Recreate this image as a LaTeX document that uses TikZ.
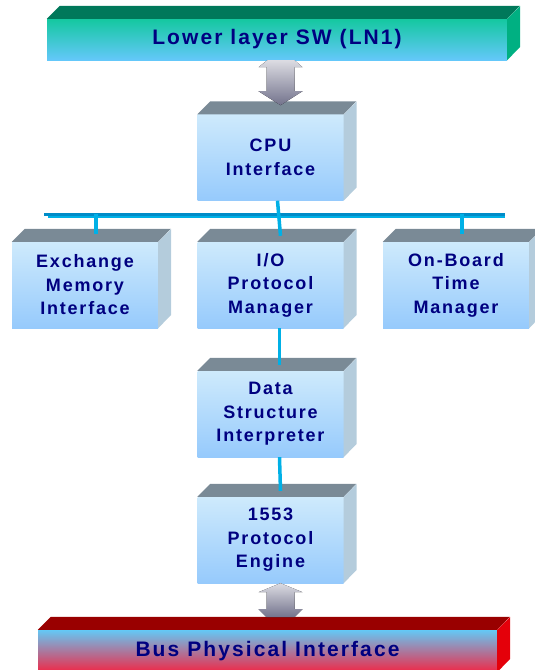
\documentclass[tikz,border=0pt]{standalone}
\usepackage{fontspec}
\setmainfont{Liberation Sans}
\newfontfamily\boxfont[LetterSpace=10]{Liberation Sans}
\usepackage{tikz}
\usetikzlibrary{calc}

\xdefinecolor{navytext}{RGB}{0, 0, 128}
\xdefinecolor{facetop}{RGB}{206, 234, 252}
\xdefinecolor{facebot}{RGB}{150, 202, 252}
\xdefinecolor{lidgray}{RGB}{122, 138, 150}
\xdefinecolor{sideblue}{RGB}{180, 204, 220}
\xdefinecolor{buscyan}{RGB}{0, 176, 230}
\xdefinecolor{busdark}{RGB}{0, 140, 200}
\xdefinecolor{swtop}{RGB}{20, 200, 160}
\xdefinecolor{swbot}{RGB}{100, 200, 250}
\xdefinecolor{swlid}{RGB}{0, 120, 90}
\xdefinecolor{swside}{RGB}{0, 176, 130}
\xdefinecolor{phytop}{RGB}{100, 200, 245}
\xdefinecolor{phybot}{RGB}{240, 40, 70}
\xdefinecolor{phylid}{RGB}{153, 0, 0}
\xdefinecolor{physide}{RGB}{228, 0, 10}

\tikzset{
    block/.style={rectangle, minimum width=146pt, minimum height=86pt, inner sep=0pt,
        top color=facetop, bottom color=facebot, text=navytext, align=center,
        font=\boxfont\bfseries\fontsize{18}{23.5}\selectfont},
    bar/.style={rectangle, minimum height=41pt, inner sep=0pt, text=navytext,
        font=\boxfont\bfseries\fontsize{21}{25}\selectfont},
    link/.style={buscyan, line width=3.5pt},
    updown/.style={top color=blue!10!gray!25, bottom color=gray!90!blue, draw=none}
}

\begin{document}
\begin{tikzpicture}[x=1pt, y=-1pt]
    \useasboundingbox (0,0) rectangle (535,670);

    % Top bar: lower layer software
    \node[bar, minimum width=460pt, top color=swtop, bottom color=swbot] (lowsw) at (277,39.5) {Lower layer SW (LN1)};
    \fill[swlid] (lowsw.north west) -- ++(13,-13) -- ++(460,0) -- (lowsw.north east) -- cycle;
    \fill[swside] (lowsw.north east) -- ++(13,-13) -- ++(0,41) -- (lowsw.south east) -- cycle;

    % Bottom bar: bus physical interface
    \node[bar, minimum width=459pt, minimum height=42pt, top color=phytop, bottom color=phybot] (phys) at (267.5,651) {Bus Physical Interface};
    \fill[phylid] (phys.north west) -- ++(13,-13) -- ++(459,0) -- (phys.north east) -- cycle;
    \fill[physide] (phys.north east) -- ++(13,-13) -- ++(0,42) -- (phys.south east) -- cycle;

    % The six blocks
    \node[block] (cpu) at (270.5,157.5) {CPU\\Interface};
    \node[block] (xmi) at (85,285) {Exchange\\Memory\\Interface};
    \node[block] (iop) at (270.5,285) {I/O\\Protocol\\Manager};
    \node[block] (obt) at (456,285) {On-Board\\Time\\Manager};
    \node[block] (dsi) at (270.5,414) {Data\\Structure\\Interpreter};
    \node[block] (pe) at (270.5,540) {1553\\Protocol\\Engine};

    % Lids and sides of the blocks
    \foreach \b in {cpu, xmi, iop, obt, dsi, pe} {
        \fill[lidgray] (\b.north west) -- ++(13,-13) -- ++(146,0) -- (\b.north east) -- cycle;
        \fill[sideblue] (\b.north east) -- ++(13,-13) -- ++(0,86) -- (\b.south east) -- cycle;
    }

    % Internal bus
    \coordinate (busL) at (44,214);
    \coordinate (busR) at (505,214);
    \draw[busdark, line width=3pt] (busL) -- (busR);
    \draw[buscyan, line width=2pt] ($(busL)+(4,3)$) -- ($(busR)+(0,3)$);
    \foreach \b/\dx in {xmi/11, obt/6} {
        \draw[link] ($(\b.north)+(\dx,-8)$) -- ($(busL -| \b.north)+(\dx,0)$);
    }
    \draw[link] ($(cpu.south)+(7,0)$) -- ($(iop.north)+(10,-6)$);

    % Links down the stack
    \draw[link] ($(iop.south)+(9,0)$) -- ($(dsi.north)+(9,-6)$);
    \draw[link] ($(dsi.south)+(9,0)$) -- ($(pe.north)+(10,-6)$);

    % Double arrows to the bars
    \path (lowsw.south -| cpu.north) ++(10,0) coordinate (a1);
    \fill[updown] (a1) ++(-13,0) -- ++(27,0) -- ++(8,7) -- ++(-8,0) -- ++(0,24) -- ++(8,0)
        -- ++(-22,14) -- ++(-22,-14) -- ++(8,0) -- ++(0,-24) -- ++(-8,0) -- cycle;
    \path (pe.south) ++(10,0) coordinate (a2);
    \fill[updown] (a2) -- ++(22,9) -- ++(-8,0) -- ++(0,17) -- ++(8,0) -- ++(-8,8)
        -- ++(-28,0) -- ++(-8,-8) -- ++(8,0) -- ++(0,-17) -- ++(-8,0) -- cycle;

\end{tikzpicture}
\end{document}
